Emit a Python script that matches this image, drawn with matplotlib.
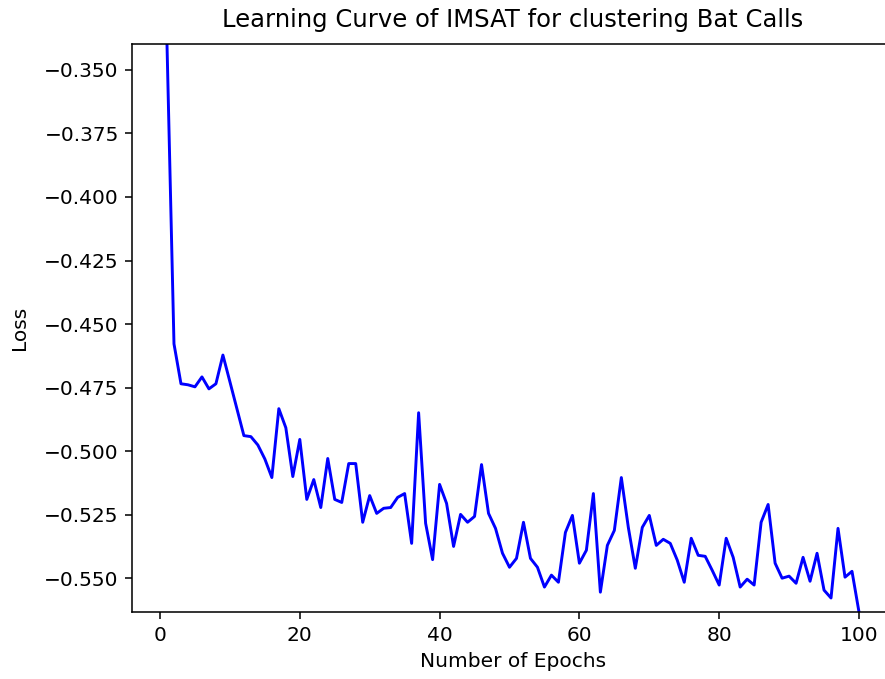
import numpy as np
import matplotlib
matplotlib.use("Agg")
import matplotlib.pyplot as plt

# IMSAT training loss per epoch (epochs 1..100)
epochs = np.arange(1, 101)
loss = [
    -0.3398, -0.4578, -0.4735, -0.4739, -0.4747, -0.4708, -0.4755, -0.4735, -0.4622, -0.4727,
    -0.4833, -0.4939, -0.4943, -0.4976, -0.5031, -0.5104, -0.4833, -0.4908, -0.5100, -0.4954,
    -0.5190, -0.5112, -0.5222, -0.5029, -0.5190, -0.5202, -0.5049, -0.5049, -0.5280, -0.5175,
    -0.5245, -0.5225, -0.5222, -0.5182, -0.5167, -0.5363, -0.4849, -0.5284, -0.5427, -0.5131,
    -0.5206, -0.5375, -0.5249, -0.5280, -0.5257, -0.5053, -0.5245, -0.5304, -0.5402, -0.5457,
    -0.5422, -0.5280, -0.5422, -0.5457, -0.5535, -0.5488, -0.5516, -0.5320, -0.5253, -0.5441,
    -0.5390, -0.5167, -0.5555, -0.5371, -0.5312, -0.5104, -0.5300, -0.5461, -0.5300, -0.5253,
    -0.5371, -0.5347, -0.5363, -0.5429, -0.5516, -0.5343, -0.5410, -0.5414, -0.5469, -0.5527,
    -0.5343, -0.5418, -0.5535, -0.5504, -0.5527, -0.5280, -0.5210, -0.5441, -0.5500, -0.5492,
    -0.5520, -0.5418, -0.5512, -0.5402, -0.5547, -0.5578, -0.5304, -0.5496, -0.5473, -0.5633,
]

S = 1.4  # text / line scale for the larger canvas
plt.rcParams["font.family"] = ["DejaVu Sans"]

fig = plt.figure(figsize=(8.85, 6.79), dpi=100)
# the axes run slightly past the right edge of the canvas
ax = fig.add_axes([0.1496, 0.0987, 0.8601, 0.8365])

ax.plot(epochs, loss, color="b", linewidth=1.5 * S)
ax.set_ylim(min(loss), max(loss))
ax.set_xticks([0, 20, 40, 60, 80, 100])
ax.set_yticks([-0.350, -0.375, -0.400, -0.425, -0.450, -0.475, -0.500, -0.525, -0.550])

ax.set_title("Learning Curve of IMSAT for clustering Bat Calls", fontsize=17.5, pad=8.5 * S)
ax.set_xlabel("Number of Epochs", fontsize=14.5, labelpad=4 * S)
ax.set_ylabel("Loss", fontsize=14.5, labelpad=11)
ax.tick_params(labelsize=14.5, length=3.5 * S, width=0.8 * S, pad=3.5 * S)
for sp in ax.spines.values():
    sp.set_linewidth(0.8 * S)

fig.savefig("out.png", dpi=100)
